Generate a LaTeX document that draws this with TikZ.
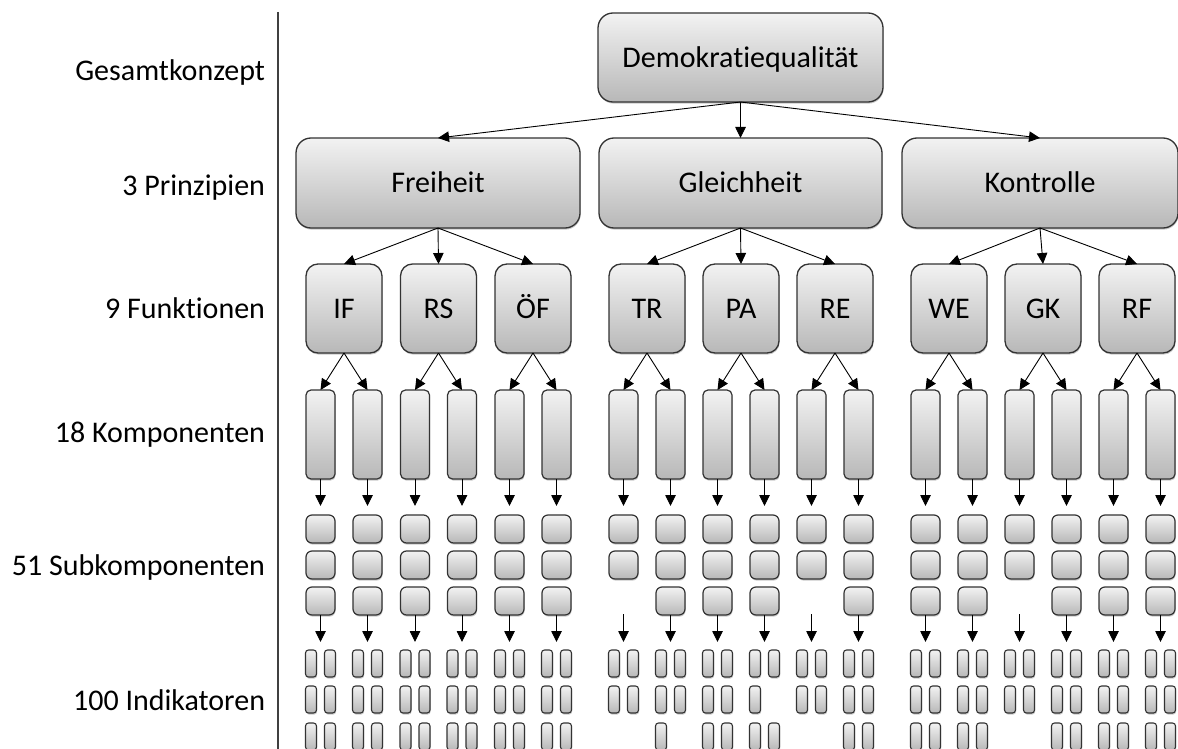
\documentclass[tikz,border=0pt]{standalone}
\usepackage{fontspec}
\setmainfont{Carlito}[Ligatures=NoCommon]
\usetikzlibrary{arrows.meta,shadows}

\begin{document}
\begin{tikzpicture}[
  x=1pt, y=-1pt,
  every node/.style={inner sep=0pt, outer sep=0pt},
  boxbase/.style={draw=black!80, shade, top color=black!5, bottom color=black!28,
    drop shadow={shadow xshift=0.6pt, shadow yshift=-1.6pt, opacity=0.3, fill=black!70}},
  boxtext/.style={font=\fontsize{30}{36}\selectfont, text height=19.3pt, text depth=0pt},
  bigbox/.style={boxbase, boxtext, line width=1.3pt, rounded corners=15pt},
  fnbox/.style={boxbase, boxtext, line width=1.3pt, rounded corners=12pt,
    minimum width=76, minimum height=89},
  compbox/.style={boxbase, line width=1.2pt, rounded corners=5pt,
    minimum width=29, minimum height=89},
  subbox/.style={boxbase, line width=1.2pt, rounded corners=6pt,
    minimum width=29, minimum height=28},
  indbox/.style={boxbase, line width=1.1pt, rounded corners=3pt,
    minimum width=11, minimum height=27},
  lbl/.style={anchor=base east, font=\fontsize{30}{36}\selectfont},
  arr/.style={-{Triangle[length=11pt,width=10.5pt]}, line width=0.9pt, black},
]
\useasboundingbox (0,0) rectangle (1178,749);

% level labels and divider
\node[lbl] (l1) at (265,81)  {Gesamtkonzept};
\node[lbl] (l2) at (265,195) {3 Prinzipien};
\node[lbl] (l3) at (265,318) {9 Funktionen};
\node[lbl] (l4) at (265,442) {18 Komponenten};
\node[lbl] (l5) at (265,575) {51 Subkomponenten};
\node[lbl] (l6) at (265,710) {100 Indikatoren};
\coordinate (dtop) at (278,12);
\coordinate (dbot) at (278,749);
\draw[black!75, line width=1.3pt] (dtop) -- (dbot);

% overall concept and principles
\node[bigbox, minimum width=285, minimum height=89] (dq) at (740.5,57.5) {Demokratiequalität};
\node[bigbox, minimum width=284, minimum height=90] (fr) at (438,183) {Freiheit};
\node[bigbox, minimum width=283, minimum height=90] (gl) at (740.5,183) {Gleichheit};
\node[bigbox, minimum width=276, minimum height=90] (ko) at (1040,183) {Kontrolle};
\draw[arr] (dq.south) -- (fr.north);
\draw[arr] (dq.south) -- (gl.north);
\draw[arr] (dq.south) -- (ko.north);

% functions
\foreach \n/\x/\t/\p in {fIF/344/IF/fr, fRS/438.5/RS/fr, fOF/533/ÖF/fr,
                          fTR/647/TR/gl, fPA/741/PA/gl, fRE/835/RE/gl,
                          fWE/949/WE/ko, fGK/1043/GK/ko, fRF/1137/RF/ko}{
  \node[fnbox] (\n) at (\x,308.5) {\t};
  \draw[arr] (\p.south) -- (\n.north);
}

% components, subcomponents and indicators
% column / x / function / number of subcomponents / indicators in rows 1-3
\foreach \k/\x/\f/\ns/\ra/\rb/\rc in {
   1/320.5/fIF/3/2/2/2,  2/367.5/fIF/3/2/2/2,
   3/415/fRS/3/2/2/2,    4/462/fRS/3/2/2/2,
   5/509.5/fOF/3/2/2/2,  6/556.5/fOF/3/2/2/2,
   7/623.5/fTR/2/2/2/0,  8/670.5/fTR/3/2/2/1,
   9/717.5/fPA/3/2/2/2, 10/764.5/fPA/3/2/1/2,
  11/811.5/fRE/2/2/2/0, 12/858.5/fRE/3/2/2/2,
  13/925.5/fWE/3/2/2/2, 14/972.5/fWE/3/2/2/2,
  15/1019.5/fGK/2/2/2/0, 16/1066.5/fGK/3/2/2/2,
  17/1113.5/fRF/3/2/2/2, 18/1160.5/fRF/3/2/2/2}{
  \node[compbox] (c\k) at (\x,434.5) {};
  \draw[arr] (\f.south) -- (c\k.north);
  \foreach \j/\y in {1/529,2/565,3/601}{
    \ifnum\j>\ns\relax\else
      \node[subbox] (s\k-\j) at (\x,\y) {};
    \fi
  }
  \draw[arr, shorten >=9pt] (c\k.south) -- (s\k-1.north);
  \coordinate (t\k) at (\x,650);
  \ifnum\ns=3
    \draw[arr, shorten >=8pt] (s\k-3.south) -- (t\k);
  \else
    \coordinate (e\k) at (\x,614);
    \draw[arr, shorten >=8pt] (e\k) -- (t\k);
  \fi
  \foreach \r/\y/\m in {1/663.5/\ra, 2/699.5/\rb, 3/736.5/\rc}{
    \ifnum\m>0
      \node[indbox] (i\k-\r-a) at (\x-9.5,\y) {};
    \fi
    \ifnum\m>1
      \node[indbox] (i\k-\r-b) at (\x+9.5,\y) {};
    \fi
  }
}
\end{tikzpicture}
\end{document}
